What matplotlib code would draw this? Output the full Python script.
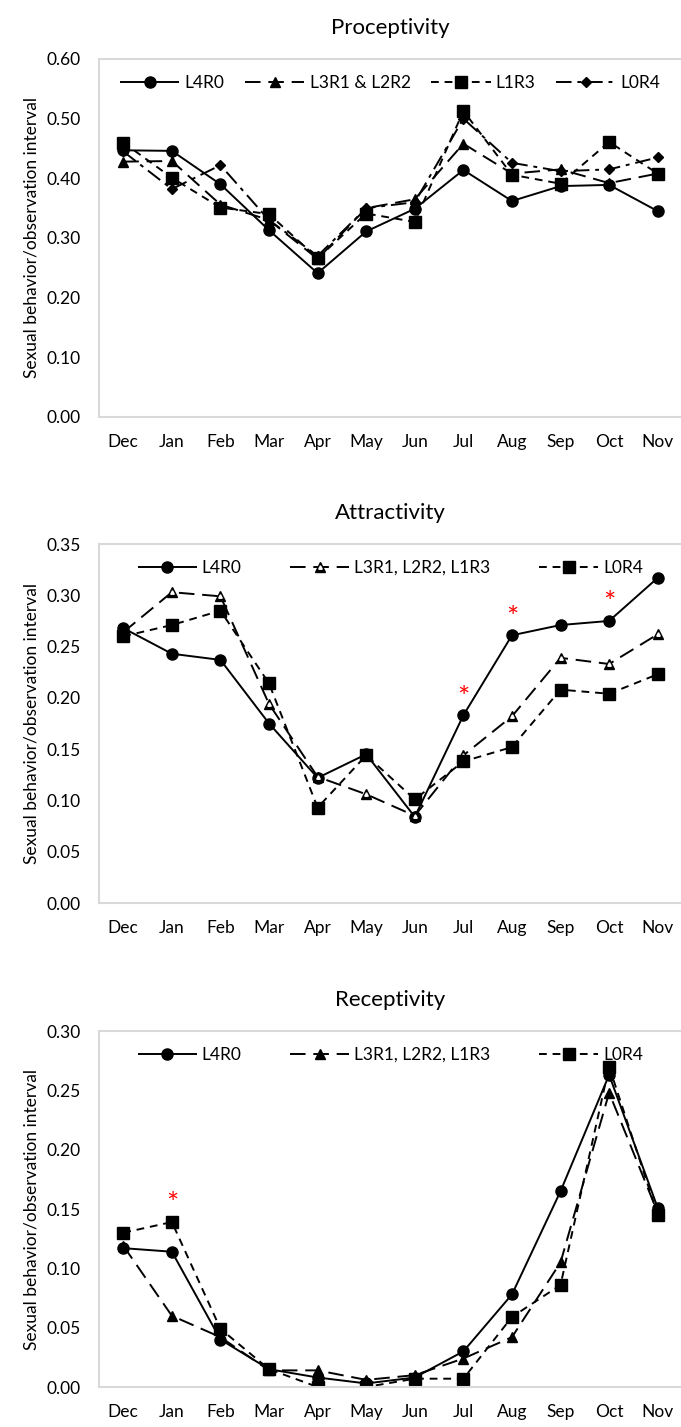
import matplotlib
matplotlib.use("Agg")
import matplotlib.pyplot as plt
from matplotlib.legend_handler import HandlerTuple

plt.rcParams['font.family'] = ['Lato', 'DejaVu Sans']

months = ['Dec', 'Jan', 'Feb', 'Mar', 'Apr', 'May', 'Jun', 'Jul', 'Aug', 'Sep', 'Oct', 'Nov']

# Proceptivity
pro_l4r0 = [0.447, 0.446, 0.390, 0.313, 0.241, 0.311, 0.349, 0.414, 0.362, 0.387, 0.389, 0.345]
pro_l3r1_l2r2 = [0.428, 0.429, 0.356, 0.330, 0.265, 0.350, 0.365, 0.458, 0.408, 0.415, 0.392, 0.408]
pro_l1r3 = [0.460, 0.401, 0.351, 0.340, 0.266, 0.341, 0.327, 0.513, 0.406, 0.391, 0.461, 0.408]
pro_l0r4 = [0.445, 0.382, 0.422, 0.330, 0.270, 0.350, 0.360, 0.500, 0.426, 0.412, 0.415, 0.435]

# Attractivity
att_l4r0 = [0.268, 0.243, 0.237, 0.175, 0.122, 0.145, 0.084, 0.183, 0.261, 0.271, 0.275, 0.317]
att_l3 = [0.264, 0.303, 0.299, 0.194, 0.123, 0.106, 0.085, 0.144, 0.182, 0.239, 0.233, 0.262]
att_l0r4 = [0.260, 0.271, 0.285, 0.214, 0.093, 0.144, 0.101, 0.138, 0.152, 0.208, 0.204, 0.223]
att_stars = [7, 8, 10]

# Receptivity
rec_l4r0 = [0.117, 0.114, 0.040, 0.015, 0.008, 0.003, 0.008, 0.030, 0.078, 0.165, 0.263, 0.151]
rec_l3 = [0.119, 0.060, 0.042, 0.014, 0.014, 0.006, 0.010, 0.024, 0.042, 0.105, 0.248, 0.147]
rec_l0r4 = [0.130, 0.139, 0.049, 0.015, 0.000, 0.000, 0.007, 0.007, 0.059, 0.086, 0.270, 0.145]
rec_stars = [1]

SOLID = (0, ())
LONG = (0, (8, 4))
SHORT = (0, (4, 3))
DASHDOT = (0, (8, 3, 2, 3))

fig = plt.figure(figsize=(6.81, 14.27), dpi=100)
W = 681.0
H = 1427.0


def make_axes(top_px, bottom_px):
  left = 99 / W
  width = 583 / W
  bottom = 1 - bottom_px / H
  height = (bottom_px - top_px) / H
  return fig.add_axes([left, bottom, width, height])


def style_axes(ax, ymax, step, title):
  ax.set_xlim(-0.5, 11.5)
  ax.set_ylim(0, ymax)
  n = int(round(ymax / step))
  ticks = [i * step for i in range(n + 1)]
  ax.set_yticks(ticks)
  ax.set_yticklabels(['%.2f' % t for t in ticks])
  ax.set_xticks(range(12))
  ax.set_xticklabels(months)
  ax.tick_params(length=0, labelsize=12.5, colors='#000000')
  ax.tick_params(axis='y', pad=13)
  ax.tick_params(axis='x', pad=12)
  for s in ax.spines.values():
    s.set_color('#d9d9d9')
    s.set_linewidth(1.5)
  ax.set_ylabel('Sexual behavior/observation interval', fontsize=12.5, labelpad=5)
  ax.set_title(title, fontsize=16, pad=18)


def series(ax, vals, ls, marker, ms, label):
  return ax.plot(range(12), vals, linestyle=ls, color='black', linewidth=1.4,
                 marker=marker, markersize=ms, markerfacecolor='black',
                 markeredgecolor='black', label=label)[0]


def stars(ax, idx, vals):
  for i in idx:
    ax.annotate('*', (i, vals[i]), xytext=(0, 12), textcoords='offset points',
                ha='center', va='center', color='red', fontsize=21)


def legend(ax, handles, labels, ncol, spacing):
  ax.legend(handles, labels, loc='upper center', ncol=ncol, frameon=False, fontsize=12.5,
            handlelength=3.4, columnspacing=spacing, handletextpad=0.3,
            bbox_to_anchor=(0.5, 1.0), handler_map={tuple: HandlerTuple(ndivide=1)})


# Panel 1
ax1 = make_axes(59, 417)
h1 = [series(ax1, pro_l4r0, SOLID, 'o', 8, 'L4R0'),
      series(ax1, pro_l3r1_l2r2, LONG, '^', 7.5, 'L3R1 & L2R2'),
      series(ax1, pro_l1r3, SHORT, 's', 8, 'L1R3'),
      series(ax1, pro_l0r4, DASHDOT, 'D', 5, 'L0R4')]
style_axes(ax1, 0.60, 0.10, 'Proceptivity')
legend(ax1, h1, ['L4R0', 'L3R1 & L2R2', 'L1R3', 'L0R4'], 4, 1.2)

# Panel 2
ax2 = make_axes(544, 903)
a = series(ax2, att_l4r0, SOLID, 'o', 8, 'L4R0')
b = series(ax2, att_l3, LONG, '^', 7.5, 'L3R1, L2R2, L1R3')
# small white core in the attractivity triangles
b_core, = ax2.plot(range(12), att_l3, linestyle='none', marker='^', markersize=2.5,
                   markerfacecolor='white', markeredgecolor='white')
c = series(ax2, att_l0r4, SHORT, 's', 8, 'L0R4')
style_axes(ax2, 0.35, 0.05, 'Attractivity')
stars(ax2, att_stars, att_l4r0)
legend(ax2, [a, (b, b_core), c], ['L4R0', 'L3R1, L2R2, L1R3', 'L0R4'], 3, 2.8)

# Panel 3
ax3 = make_axes(1031, 1387)
h3 = [series(ax3, rec_l4r0, SOLID, 'o', 8, 'L4R0'),
      series(ax3, rec_l3, LONG, '^', 7.5, 'L3R1, L2R2, L1R3'),
      series(ax3, rec_l0r4, SHORT, 's', 8, 'L0R4')]
style_axes(ax3, 0.30, 0.05, 'Receptivity')
stars(ax3, rec_stars, rec_l0r4)
legend(ax3, h3, ['L4R0', 'L3R1, L2R2, L1R3', 'L0R4'], 3, 2.8)

fig.savefig('out.png', dpi=100)
